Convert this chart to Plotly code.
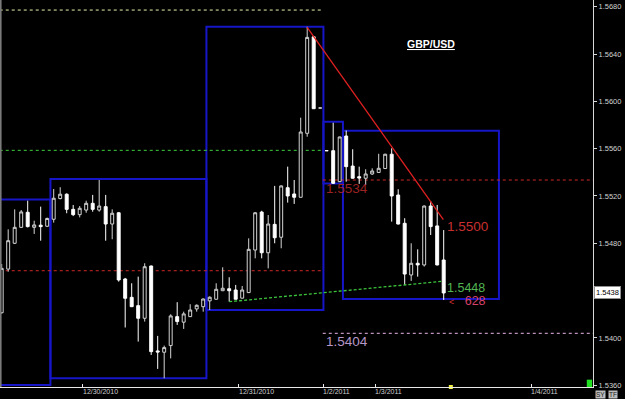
import plotly.graph_objects as go

# ---- data (hourly GBP/USD candles) ----
open_ = [1.54213, 1.54582, 1.54800, 1.54935, 1.55062, 1.54935, 1.54953, 1.54944, 1.55003, 1.55178,
         1.55215, 1.55087, 1.55042, 1.55081, 1.55138, 1.55081, 1.55110, 1.54963, 1.55058, 1.54498,
         1.54343, 1.54273, 1.54166, 1.54608, 1.53890, 1.53879, 1.53935, 1.54180, 1.54133, 1.54180,
         1.54245, 1.54264, 1.54313, 1.54327, 1.54399, 1.54416, 1.54405, 1.54336, 1.54383, 1.54743,
         1.55064, 1.54720, 1.54960, 1.54851, 1.55270, 1.55217, 1.55189, 1.55730, 1.56546, 1.55944,
         1.55583, 1.55583, 1.55321, 1.55707, 1.55453, 1.55363, 1.55350, 1.55386, 1.55399, 1.55432,
         1.55553, 1.55208, 1.54969, 1.54532, 1.54631, 1.54617, 1.55115, 1.54947, 1.54659]
high = [1.54625, 1.54918, 1.55087, 1.55081, 1.55160, 1.54991, 1.55110, 1.55017, 1.55259, 1.55274,
        1.55222, 1.55124, 1.55115, 1.55160, 1.55209, 1.55335, 1.55209, 1.55087, 1.55064, 1.54507,
        1.54462, 1.54518, 1.54631, 1.54612, 1.54017, 1.53935, 1.54200, 1.54302, 1.54222, 1.54285,
        1.54283, 1.54333, 1.54351, 1.54462, 1.54597, 1.54513, 1.54448, 1.54439, 1.54842, 1.55064,
        1.55075, 1.55039, 1.55285, 1.55289, 1.55448, 1.55335, 1.55862, 1.56631, 1.56548, 1.55944,
        1.55583, 1.55819, 1.55701, 1.55754, 1.55595, 1.55448, 1.55426, 1.55434, 1.55557, 1.55557,
        1.55603, 1.55257, 1.55012, 1.54800, 1.54749, 1.55120, 1.55158, 1.55124, 1.54912]
low = [1.54205, 1.54560, 1.54794, 1.54929, 1.54934, 1.54879, 1.54822, 1.54938, 1.54975, 1.55172,
       1.55054, 1.55030, 1.55019, 1.55058, 1.55067, 1.55067, 1.54822, 1.54834, 1.54476, 1.54088,
       1.54261, 1.53969, 1.54138, 1.53856, 1.53738, 1.53659, 1.53827, 1.54110, 1.54076, 1.54177,
       1.54222, 1.54222, 1.54236, 1.54325, 1.54397, 1.54307, 1.54325, 1.54334, 1.54380, 1.54673,
       1.54673, 1.54588, 1.54800, 1.54758, 1.55144, 1.55133, 1.55188, 1.55701, 1.55938, 1.55944,
       1.55583, 1.55302, 1.55318, 1.55321, 1.55348, 1.55302, 1.55293, 1.55378, 1.55397, 1.55428,
       1.54983, 1.54959, 1.54448, 1.54482, 1.54518, 1.54603, 1.54870, 1.54613, 1.54321]
close = [1.54588, 1.54822, 1.54935, 1.55065, 1.54941, 1.54955, 1.54941, 1.55010, 1.55181, 1.55215,
         1.55087, 1.55042, 1.55096, 1.55138, 1.55087, 1.55115, 1.54963, 1.55054, 1.54490, 1.54335,
         1.54264, 1.54166, 1.54602, 1.53884, 1.53881, 1.53918, 1.54186, 1.54138, 1.54203, 1.54236,
         1.54276, 1.54329, 1.54344, 1.54411, 1.54420, 1.54399, 1.54327, 1.54405, 1.54749, 1.55058,
         1.54720, 1.54963, 1.54847, 1.55285, 1.55200, 1.55189, 1.55741, 1.56541, 1.55938, 1.55944,
         1.55583, 1.55307, 1.55699, 1.55448, 1.55350, 1.55352, 1.55386, 1.55411, 1.55434, 1.55553,
         1.55200, 1.54963, 1.54540, 1.54631, 1.54617, 1.55115, 1.54941, 1.54617, 1.54380]
candle_index = list(range(len(open_)))

# day boundaries (candle index) and their labels
day_ticks = [12.5, 36.5, 49.5, 57.5, 81.5]
day_labels = ["12/30/2010", "12/31/2010", "1/2/2011", "1/3/2011", "1/4/2011"]

# price axis ticks (1.5440 is hidden under the last-price tag)
price_ticks = [1.5360, 1.5400, 1.5440, 1.5480, 1.5520, 1.5560, 1.5600, 1.5640, 1.5680]
last_price = 1.5438

# session boxes: start, end (candle index), high, low
box_start = [-16.5, 7.5, 31.5, 49.5, 52.5]
box_end = [7.5, 31.5, 49.5, 52.5, 76.5]
box_high = [1.55170, 1.55344, 1.56631, 1.55828, 1.55752]
box_low = [1.53602, 1.53659, 1.54236, 1.55306, 1.54329]

# horizontal levels: price, from index, to index, color
level_price = [1.56772, 1.55586, 1.54568, 1.55335, 1.54039]
level_from = [-0.3, -0.3, -0.3, 49.4, 49.4]
level_to = [49.4, 49.4, 49.4, 92, 92]
level_color = ["#e6f2a8", "#3ccf3c", "#d02828", "#d02828", "#e8b4e8"]

# trend lines
red_trend_idx = [47.0, 67.95]
red_trend_price = [1.56626, 1.55000]
green_trend_idx = [35.0, 67.9]
green_trend_price = [1.54306, 1.54479]

XMIN, XMAX = -0.26, 90.97
YMIN, YMAX = 1.53585, 1.56857

fig = go.Figure()
fig.add_trace(go.Candlestick(
    x=candle_index, open=open_, high=high, low=low, close=close,
    increasing=dict(line=dict(color="#d4d4d4", width=1), fillcolor="black"),
    decreasing=dict(line=dict(color="#ffffff", width=1), fillcolor="#ffffff"),
    whiskerwidth=0, showlegend=False, hoverinfo="skip"))

shapes = []
for x0, x1, hi, lo in zip(box_start, box_end, box_high, box_low):
    shapes.append(dict(type="rect", xref="x", yref="y", x0=x0, x1=x1, y0=lo, y1=hi,
                       line=dict(color="#1616c8", width=2), fillcolor="rgba(0,0,0,0)", layer="below"))
for p, a, b, c in zip(level_price, level_from, level_to, level_color):
    shapes.append(dict(type="line", xref="x", yref="y", x0=a, x1=b, y0=p, y1=p,
                       line=dict(color=c, width=1, dash="dot"), layer="below"))
shapes.append(dict(type="line", xref="x", yref="y", x0=red_trend_idx[0], x1=red_trend_idx[1],
                   y0=red_trend_price[0], y1=red_trend_price[1],
                   line=dict(color="#e02020", width=1.3)))
shapes.append(dict(type="line", xref="x", yref="y", x0=green_trend_idx[0], x1=green_trend_idx[1],
                   y0=green_trend_price[0], y1=green_trend_price[1],
                   line=dict(color="#3cc43c", width=1.3, dash="3px,2px")))
# left border
shapes.append(dict(type="line", xref="paper", yref="paper", x0=0.001, x1=0.001, y0=0, y1=1,
                   line=dict(color="#7a7a7a", width=2)))
# green square bottom-right
shapes.append(dict(type="rect", xref="paper", yref="paper", x0=0.9895, x1=0.9985, y0=0.0, y1=0.019,
                   line=dict(width=0), fillcolor="#22e022"))

ann = []
lab_font = "Liberation Sans, Arial, sans-serif"
def txt(x, y, s, color, size=14, xanchor="left", yanchor="middle"):
    ann.append(dict(x=x, y=y, xref="x", yref="y", text=s, showarrow=False,
                    xanchor=xanchor, yanchor=yanchor, borderpad=0,
                    font=dict(family=lab_font, size=size, color=color)))

txt(49.7, 1.55262, "1.5534", "#9a2222", size=13.5)
txt(49.7, 1.53968, "1.5404", "#b896c8", size=13.5)
txt(68.3, 1.54938, "1.5500", "#c83030", size=13.5)
txt(68.3, 1.54425, "1.5448", "#52b452", size=12.5)
txt(68.65, 1.54312,
    '<span style="font-size:9px;color:#d83030">&lt;</span>&nbsp;&nbsp;&nbsp;628',
    "#d8406a", size=12.5)

ann.append(dict(x=66.1, y=1.56485, xref="x", yref="y", text="<b><u>GBP/USD</u></b>",
                showarrow=False, xanchor="center", yanchor="middle",
                font=dict(family=lab_font, size=10.5, color="white")))

for t, lab in zip(day_ticks, day_labels):
    ann.append(dict(x=t, y=0, xref="x", yref="paper", text=lab, showarrow=False,
                    xanchor="left", yanchor="top", xshift=-2, yshift=1,
                    font=dict(family=lab_font, size=7, color="#d0d0d0")))

ann.append(dict(x=1.0, y=last_price, xref="paper", yref="y", text=f"{last_price:.4f}",
                showarrow=False, xanchor="left", yanchor="middle", xshift=1,
                bgcolor="white", bordercolor="#909090", borderwidth=1, borderpad=1,
                font=dict(family=lab_font, size=7.5, color="black")))
for xv, s in [(1.004, "SY"), (1.026, "TF")]:
    ann.append(dict(x=xv, y=0, xref="paper", yref="paper", text=s, showarrow=False,
                    xanchor="left", yanchor="top", yshift=-3, bgcolor="#bdbdbd",
                    borderpad=0, font=dict(family=lab_font, size=6.5, color="#202020")))

fig.add_trace(go.Scatter(x=[69.1], y=[YMIN], mode="markers", cliponaxis=False,
                         marker=dict(symbol="square", size=4, color="#f0f040"),
                         showlegend=False, hoverinfo="skip"))

fig.update_layout(
    width=625, height=399,
    margin=dict(l=0, r=32, t=0, b=12),
    paper_bgcolor="black", plot_bgcolor="black",
    shapes=shapes, annotations=ann,
    boxgap=0.35, showlegend=False,
    xaxis=dict(range=[XMIN, XMAX], showgrid=False, zeroline=False, showline=True,
               linecolor="#e8e8e8", linewidth=1, tickvals=day_ticks, ticks="inside",
               ticklen=3, tickcolor="#e8e8e8", showticklabels=False,
               rangeslider=dict(visible=False), fixedrange=True),
    yaxis=dict(range=[YMIN, YMAX], side="right", showgrid=False, zeroline=False,
               showline=True, linecolor="#d8d8d8", linewidth=1,
               tickvals=price_ticks,
               ticktext=["" if abs(v - 1.5440) < 1e-9 else f"{v:.4f}" for v in price_ticks],
               ticks="outside", ticklen=3, tickcolor="#d8d8d8",
               tickfont=dict(family=lab_font, size=7.5, color="#d0d0d0"), fixedrange=True),
)

fig.write_html("out.html")
